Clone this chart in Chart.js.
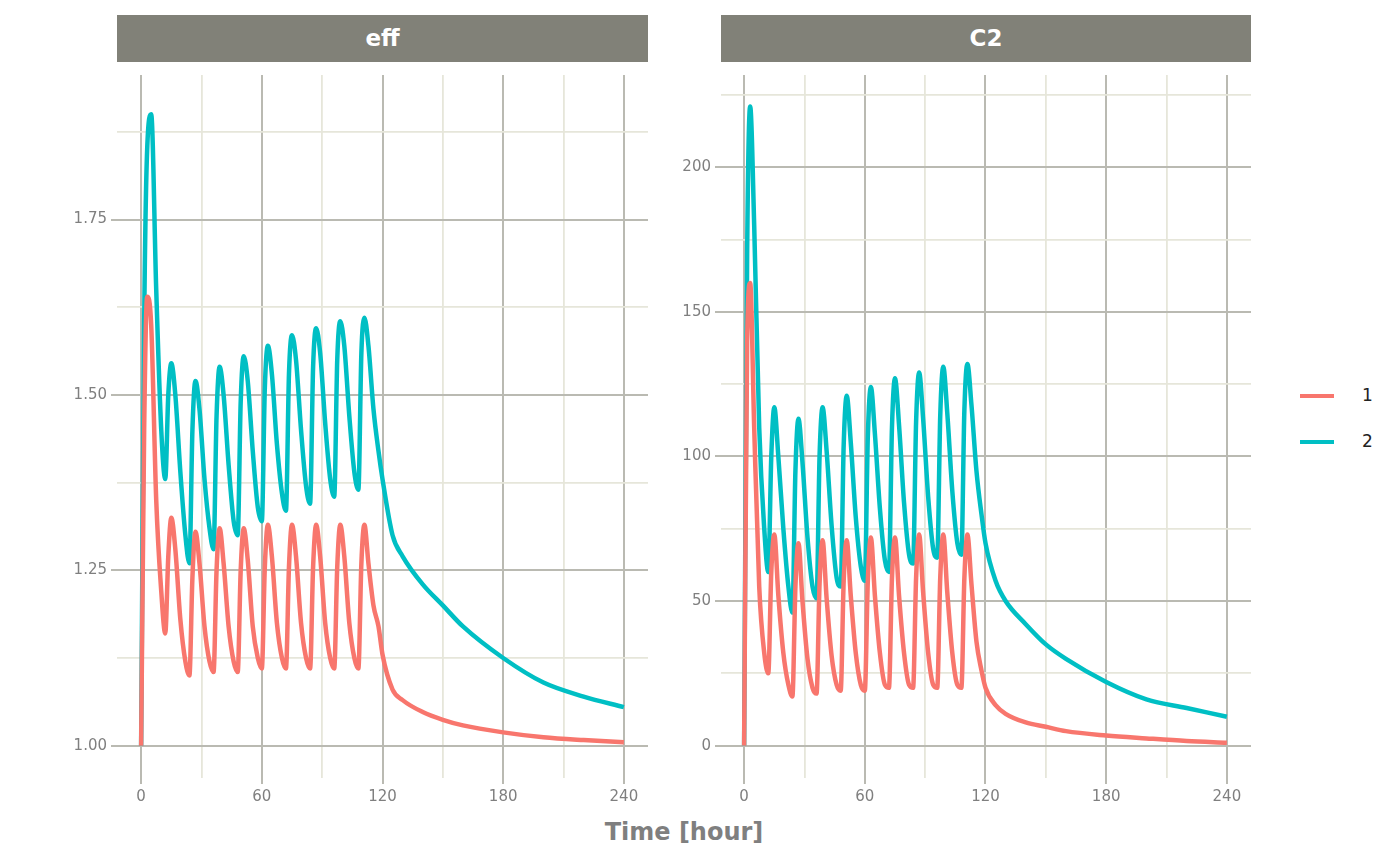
<!DOCTYPE html>
<html>
<head>
<meta charset="utf-8">
<script src="https://cdn.jsdelivr.net/npm/chart.js@4.4.1/dist/chart.umd.min.js"></script>
<style>
  body { margin:0; background:#fff; width:1400px; height:865px; position:relative; overflow:hidden; font-family:"DejaVu Sans", sans-serif; }
  .strip { position:absolute; top:15px; height:47px; background:#818178; color:#fff; font-weight:bold; font-size:23px; text-align:center; line-height:47px; }
  .cv { position:absolute; top:62px; }
  #xtitle { position:absolute; top:818px; left:117px; width:1134px; text-align:center; font-weight:bold; font-size:24px; color:#7f7f7f; }
  .leg { position:absolute; left:1300px; font-size:17px; color:#222; }
  .leg span { display:inline-block; width:34px; height:4px; vertical-align:middle; margin-right:28px; }
</style>
</head>
<body>
<div class="strip" style="left:117px;width:531px">eff</div>
<div class="strip" style="left:721px;width:530px">C2</div>
<div class="cv" style="left:50px;width:598px;height:751px"><canvas id="c1"></canvas></div>
<div class="cv" style="left:654px;width:597px;height:751px"><canvas id="c2"></canvas></div>
<div id="xtitle">Time [hour]</div>
<div class="leg" style="top:385px"><span style="background:#F8766D"></span>1</div>
<div class="leg" style="top:431px"><span style="background:#00BFC4"></span>2</div>
<script>
const times = [0,1.5,3,5,7.5,10, 12,13.5,15,17,19.5,22, 24,25.5,27,29,31.5,34,
  36,37.5,39,41,43.5,46, 48,49.5,51,53,55.5,58, 60,61.5,63,65,67.5,70,
  72,73.5,75,77,79.5,82, 84,85.5,87,89,91.5,94, 96,97.5,99,101,103.5,106,
  108,109.5,111,113,115.5,118, 120,125,130,140,150,160,180,200,220,240];

const eff1 = [1.0,1.45,1.64,1.60,1.35,1.22, 1.16,1.27,1.325,1.28,1.18,1.12,
  1.10,1.24,1.305,1.26,1.17,1.12, 1.105,1.25,1.31,1.26,1.17,1.12,
  1.105,1.25,1.31,1.265,1.17,1.125, 1.11,1.255,1.315,1.27,1.175,1.125,
  1.11,1.255,1.315,1.27,1.175,1.125, 1.11,1.255,1.315,1.27,1.175,1.125,
  1.11,1.255,1.315,1.27,1.175,1.125, 1.11,1.26,1.315,1.26,1.20,1.17,
  1.13,1.08,1.065,1.048,1.037,1.029,1.019,1.012,1.008,1.005];
const eff2 = [1.0,1.60,1.85,1.90,1.65,1.45, 1.38,1.50,1.545,1.50,1.39,1.30,
  1.26,1.45,1.52,1.48,1.38,1.31, 1.28,1.47,1.54,1.50,1.40,1.32,
  1.30,1.49,1.555,1.52,1.42,1.34, 1.32,1.51,1.57,1.53,1.43,1.36,
  1.335,1.53,1.585,1.55,1.45,1.37, 1.345,1.54,1.595,1.56,1.46,1.38,
  1.355,1.55,1.605,1.57,1.47,1.39, 1.365,1.56,1.61,1.57,1.48,1.42,
  1.38,1.30,1.27,1.23,1.20,1.17,1.125,1.09,1.07,1.055];
const c2s1 = [0,140,160,110,55,32, 25,60,73,52,32,21, 17,55,70,50,30,20,
  18,56,71,51,31,21, 19,57,71,52,32,21, 19,57,72,52,32,21,
  20,58,72,52,32,21, 20,58,73,53,32,21, 20,58,73,53,32,21,
  20,58,73,56,36,26, 20,14,11,8,6.5,5,3.5,2.5,1.6,1];
const c2s2 = [0,170,221,180,110,75, 60,100,117,100,75,55, 46,95,113,98,72,55,
  51,100,117,102,76,58, 55,104,121,105,79,62, 57,107,124,108,82,64,
  60,110,127,111,84,66, 63,112,129,113,86,68, 65,114,131,115,88,70,
  66,116,132,118,95,80, 70,57,50,42,35,30,22,16,13,10];

const xTicks = [0,30,60,90,120,150,180,210,240];
const xMajor = [0,60,120,180,240];
const effTicks = [1.0,1.125,1.25,1.375,1.5,1.625,1.75,1.875];
const effMajor = [1.0,1.25,1.5,1.75];
const effLabels = ['1.00','1.25','1.50','1.75'];
const c2Ticks = [0,25,50,75,100,125,150,175,200,225];
const c2Major = [0,50,100,150,200];

function pts(vals){ return times.map((t,i)=>({x:t,y:vals[i]})); }
const isMaj = (list,v) => list.some(m => Math.abs(m-v) < 1e-6);

function makeChart(id, s1, s2, ymin, ymax, yTicks, yMajor, fmt, xmin, xmax){
  new Chart(document.getElementById(id), {
    type:'line',
    data:{ datasets:[
      { data:pts(s1), borderColor:'#F8766D', borderWidth:4.5, pointRadius:0, cubicInterpolationMode:'monotone', fill:false },
      { data:pts(s2), borderColor:'#00BFC4', borderWidth:4.5, pointRadius:0, cubicInterpolationMode:'monotone', fill:false }
    ]},
    options:{
      responsive:true, maintainAspectRatio:false, animation:false,
      layout:{ padding:0 },
      plugins:{ legend:{display:false}, tooltip:{enabled:false} },
      scales:{
        x:{ type:'linear', min:xmin, max:xmax,
          afterBuildTicks: a => { a.ticks = xTicks.map(v=>({value:v})); },
          afterFit: a => { a.height = 35; },
          border:{display:false},
          grid:{ color: c => isMaj(xMajor,c.tick.value) ? '#babab2' : '#e6e6da',
                 lineWidth: c => isMaj(xMajor,c.tick.value) ? 2 : 1.8,
                 tickColor: c => isMaj(xMajor,c.tick.value) ? '#babab2' : 'rgba(0,0,0,0)', tickLength:6 },
          ticks:{ color:'#7f7f7f', font:{size:15, family:'DejaVu Sans'}, padding:4, maxRotation:0, autoSkip:false,
                  callback: v => isMaj(xMajor,v) ? String(v) : '' }
        },
        y:{ type:'linear', min:ymin, max:ymax,
          afterBuildTicks: a => { a.ticks = yTicks.map(v=>({value:v})); },
          afterFit: a => { a.width = 67; },
          border:{display:false},
          grid:{ color: c => isMaj(yMajor,c.tick.value) ? '#babab2' : '#e6e6da',
                 lineWidth: c => isMaj(yMajor,c.tick.value) ? 2 : 1.8,
                 tickColor: c => isMaj(yMajor,c.tick.value) ? '#babab2' : 'rgba(0,0,0,0)', tickLength:6 },
          ticks:{ color:'#7f7f7f', font:{size:15, family:'DejaVu Sans'}, padding:4, autoSkip:false,
                  callback: v => isMaj(yMajor,v) ? fmt(v) : '' }
        }
      }
    }
  });
}
makeChart('c1', eff1, eff2, 0.954, 1.956, effTicks, effMajor, v => v.toFixed(2), -12, 252);
makeChart('c2', c2s1, c2s2, -11.2, 231.9, c2Ticks, c2Major, v => String(v), -11.5, 252);
</script>
</body>
</html>
